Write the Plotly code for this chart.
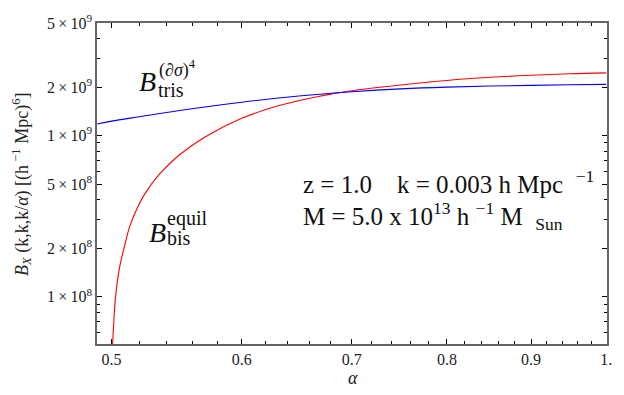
import plotly.graph_objects as go

# --- data ---
alpha_red = [0.5002, 0.5028, 0.5055, 0.5088, 0.5129, 0.518, 0.5237, 0.535, 0.55, 0.57,
             0.60, 0.63, 0.668, 0.685, 0.70, 0.75, 0.80, 0.85, 0.90, 0.95, 1.0]
b_bis = [4.0e7, 1.0e8, 1.5e8, 2.0e8, 2.73e8, 3.5e8, 4.33e8, 5.8e8, 7.6e8, 0.98e9,
         1.28e9, 1.52e9, 1.75e9, 1.83e9, 1.90e9, 2.06e9, 2.20e9, 2.30e9, 2.37e9, 2.42e9, 2.45e9]

alpha_blue = [0.49, 0.50, 0.52, 0.55, 0.60, 0.65, 0.70, 0.75, 0.80, 0.85, 0.90, 0.95, 1.0]
b_tris = [1.18e9, 1.23e9, 1.31e9, 1.43e9, 1.61e9, 1.76e9, 1.87e9, 1.95e9, 2.00e9,
          2.03e9, 2.05e9, 2.07e9, 2.08e9]

x_ticks = [0.5, 0.6, 0.7, 0.8, 0.9, 1.0]
x_ticklabels = ["0.5", "0.6", "0.7", "0.8", "0.9", "1."]
x_minor = [0.52, 0.54, 0.56, 0.58, 0.62, 0.64, 0.66, 0.68, 0.72, 0.74, 0.76, 0.78,
           0.82, 0.84, 0.86, 0.88, 0.92, 0.94, 0.96, 0.98]
y_ticks = [1e8, 2e8, 5e8, 1e9, 2e9, 5e9]
y_ticklabels = ["1\u2009×\u200910<sup>8</sup>", "2\u2009×\u200910<sup>8</sup>", "5\u2009×\u200910<sup>8</sup>",
                "1\u2009×\u200910<sup>9</sup>", "2\u2009×\u200910<sup>9</sup>", "5\u2009×\u200910<sup>9</sup>"]
y_minor = [6e7, 7e7, 8e7, 9e7, 3e8, 4e8, 6e8, 7e8, 8e8, 9e8, 3e9, 4e9]

SERIF = "Liberation Serif"

fig = go.Figure()
fig.add_trace(go.Scatter(x=alpha_red, y=b_bis, mode="lines", line=dict(color="#ff0000", width=1.1, shape="spline"),
                         showlegend=False))
fig.add_trace(go.Scatter(x=alpha_blue, y=b_tris, mode="lines", line=dict(color="#0000ff", width=1.1, shape="spline"),
                         showlegend=False))

tickfont = dict(family=SERIF, size=16, color="#222222")

xaxis = dict(type="log", range=[-0.3099, 0.0005], tickmode="array", tickvals=x_ticks,
             ticktext=x_ticklabels, tickfont=tickfont,
             showgrid=False, zeroline=False, showline=True, linecolor="#666666", linewidth=1.5,
             mirror="ticks", ticks="inside", tickcolor="#000000", ticklen=5, tickwidth=1,
             minor=dict(tickmode="array", tickvals=x_minor, ticks="inside", ticklen=3,
                        tickcolor="#000000", tickwidth=1))
yaxis = dict(type="log", range=[7.706, 9.699], tickmode="array", tickvals=y_ticks,
             ticktext=y_ticklabels, tickfont=tickfont,
             showgrid=False, zeroline=False, showline=True, linecolor="#666666", linewidth=1.5,
             mirror="ticks", ticks="inside", tickcolor="#000000", ticklen=5, tickwidth=1,
             minor=dict(tickmode="array", tickvals=y_minor, ticks="inside", ticklen=3,
                        tickcolor="#000000", tickwidth=1))

def px(x):
    return (x - 97) / 514.0

def py(y):
    return (344 - y) / 328.0

ann = []
# axis titles
ann.append(dict(x=px(355), y=py(379), text="<i>α</i>", font=dict(family=SERIF, size=18, color="#222222")))
ann.append(dict(x=px(21), y=py(181), textangle=-90,
                text="<i>B<sub>X</sub></i> (k,k,k/<i>α</i>) [(h<sup> −1</sup> Mpc)<sup>6</sup>]",
                font=dict(family=SERIF, size=18, color="#222222")))
# curve labels
ann.append(dict(x=px(137), y=py(76), xanchor="left", text="<i>B</i>",
                font=dict(family=SERIF, size=28, color="#111111")))
ann.append(dict(x=px(156), y=py(84), xanchor="left", text="tris",
                font=dict(family=SERIF, size=20, color="#111111")))
ann.append(dict(x=px(157), y=py(63), xanchor="left", text="(<i>∂σ</i>)<sup>4</sup>",
                font=dict(family=SERIF, size=18, color="#111111")))
ann.append(dict(x=px(147), y=py(230), xanchor="left", text="<i>B</i>",
                font=dict(family=SERIF, size=28, color="#111111")))
ann.append(dict(x=px(166), y=py(236), xanchor="left", text="bis",
                font=dict(family=SERIF, size=20, color="#111111")))
ann.append(dict(x=px(166), y=py(216), xanchor="left", text="equil",
                font=dict(family=SERIF, size=20, color="#111111")))
# parameter text
ann.append(dict(x=px(303), y=py(178), xanchor="left",
                text="z = 1.0\u00a0\u00a0\u00a0\u00a0k = 0.003 h Mpc \u00a0<sup>−1</sup>",
                font=dict(family=SERIF, size=25, color="#111111")))
ann.append(dict(x=px(303), y=py(213), xanchor="left",
                text="M = 5.0 x 10<sup>13</sup> h <sup>−1</sup> M \u00a0<sub>Sun</sub>",
                font=dict(family=SERIF, size=25, color="#111111")))
for a in ann:
    a.update(xref="paper", yref="paper", showarrow=False, yanchor="middle")
ann[0]["xanchor"] = "center"
ann[1]["xanchor"] = "center"

fig.update_layout(width=624, height=395, margin=dict(l=97, r=13, t=16, b=51),
                  font=dict(family=SERIF, size=16, color="#222222"),
                  xaxis=xaxis, yaxis=yaxis,
                  paper_bgcolor="white", plot_bgcolor="white", annotations=ann)

fig.write_html("out.html")
